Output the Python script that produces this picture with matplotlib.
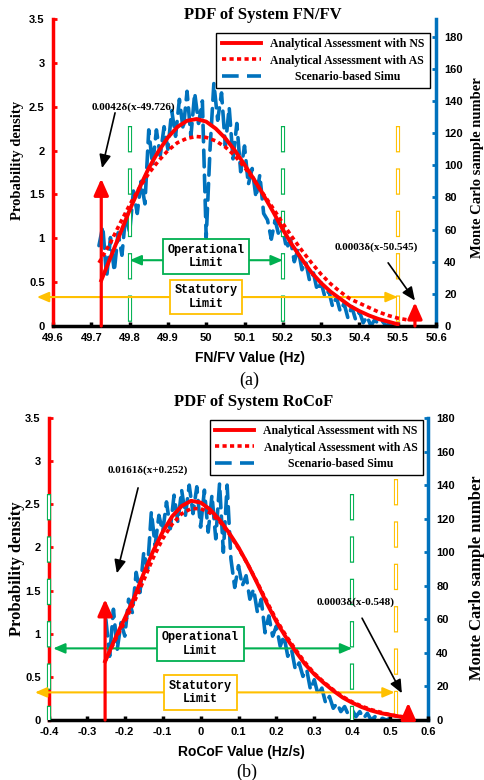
import numpy as np
import matplotlib
matplotlib.use("Agg")
import matplotlib.pyplot as plt
from matplotlib.lines import Line2D

plt.rcParams["lines.scale_dashes"] = False
plt.rcParams["font.family"] = ["Liberation Sans", "DejaVu Sans"]
SERIF = ["Liberation Serif", "DejaVu Serif"]
MONO = ["Liberation Mono", "DejaVu Sans Mono"]

RED = "#FF0000"
BLUE = "#0072BD"
GREEN = "#00B050"
YELLOW = "#FFC000"

# ---------------- shared ----------------
legend_labels = ["Analytical Assessment with NS",
                 "Analytical Assessment with AS",
                 "Scenario-based Simu"]
pdf_ticks = [0, 0.5, 1, 1.5, 2, 2.5, 3, 3.5]
pdf_ticklabels = ["0", "0.5", "1", "1.5", "2", "2.5", "3", "3.5"]
count_ticks = [0, 20, 40, 60, 80, 100, 120, 140, 160, 180]
count_ticklabels = [str(v) for v in count_ticks]

# ---------------- panel (a) data ----------------
a_xticks = [49.6, 49.7, 49.8, 49.9, 50.0, 50.1, 50.2, 50.3, 50.4, 50.5, 50.6]
a_xticklabels = ["49.6", "49.7", "49.8", "49.9", "50", "50.1", "50.2",
                 "50.3", "50.4", "50.5", "50.6"]
a_ns_x = [49.726, 49.75, 49.775, 49.80, 49.825, 49.85, 49.875, 49.90, 49.925,
          49.95, 49.975, 50.00, 50.025, 50.05, 50.075, 50.10, 50.125, 50.15,
          50.175, 50.20, 50.225, 50.25, 50.275, 50.30, 50.325, 50.35, 50.375,
          50.40, 50.425, 50.45, 50.475, 50.50]
a_ns_y = [0.52, 0.78, 1.05, 1.32, 1.57, 1.80, 1.99, 2.15, 2.27, 2.34, 2.36,
          2.33, 2.25, 2.14, 2.00, 1.84, 1.67, 1.49, 1.30, 1.10, 0.92, 0.76,
          0.61, 0.49, 0.39, 0.31, 0.23, 0.17, 0.12, 0.08, 0.05, 0.02]
a_as_x = [49.72, 49.75, 49.775, 49.80, 49.825, 49.85, 49.875, 49.90, 49.925,
          49.95, 49.975, 50.00, 50.025, 50.05, 50.075, 50.10, 50.125, 50.15,
          50.175, 50.20, 50.225, 50.25, 50.275, 50.30, 50.325, 50.35, 50.375,
          50.40, 50.425, 50.45, 50.475, 50.50, 50.525]
a_as_y = [0.72, 0.95, 1.17, 1.38, 1.57, 1.74, 1.88, 2.00, 2.09, 2.14, 2.16,
          2.15, 2.11, 2.04, 1.94, 1.81, 1.66, 1.50, 1.34, 1.17, 1.01, 0.86,
          0.72, 0.59, 0.48, 0.39, 0.31, 0.26, 0.21, 0.16, 0.12, 0.09, 0.07]
a_sim_start, a_sim_step = 49.72, 0.01
a_sim = [50, 62, 30, 55, 34, 58, 44, 70, 58, 84,
         70, 90, 76, 122, 100, 122, 106, 124, 110, 134,
         118, 141, 122, 146, 118, 145, 126, 140, 55, 110,
         151, 128, 145, 112, 136, 104, 126, 96, 112, 88,
         98, 80, 94, 70, 66, 54, 66, 56, 60, 48,
         54, 40, 48, 35, 40, 28, 33, 22, 27, 18,
         22, 12, 18, 9, 14, 5, 12, 4, 9, 2,
         6, 0, 4, 1, 3, 0, 2, 0, 1]
a_delta_x = [49.726, 50.545]
a_delta_h = [1.68, 0.27]
a_delta_txt = ["0.0042\u03b4(x-49.726)", "0.0003\u03b4(x-50.545)"]
a_op = [49.8, 50.2]
a_stat = [49.5, 50.5]

# ---------------- panel (b) data ----------------
b_xticks = [-0.4, -0.3, -0.2, -0.1, 0.0, 0.1, 0.2, 0.3, 0.4, 0.5, 0.6]
b_xticklabels = ["-0.4", "-0.3", "-0.2", "-0.1", "0", "0.1", "0.2", "0.3",
                 "0.4", "0.5", "0.6"]
b_ns_x = [-0.252, -0.225, -0.2, -0.175, -0.15, -0.125, -0.1, -0.075, -0.05,
          -0.025, 0.0, 0.025, 0.05, 0.075, 0.1, 0.125, 0.15, 0.175, 0.2,
          0.225, 0.25, 0.275, 0.3, 0.325, 0.35, 0.375, 0.4, 0.425, 0.45,
          0.475, 0.5, 0.525, 0.55]
b_ns_y = [0.68, 0.95, 1.18, 1.42, 1.70, 1.96, 2.18, 2.36, 2.48, 2.54, 2.52,
          2.44, 2.32, 2.17, 2.00, 1.80, 1.58, 1.35, 1.14, 0.96, 0.80, 0.65,
          0.53, 0.43, 0.34, 0.26, 0.20, 0.15, 0.11, 0.08, 0.06, 0.04, 0.03]
b_as_x = b_ns_x
b_as_y = [0.68, 0.93, 1.14, 1.37, 1.62, 1.88, 2.10, 2.27, 2.39, 2.45, 2.45,
          2.40, 2.30, 2.16, 1.99, 1.80, 1.59, 1.37, 1.16, 0.98, 0.82, 0.67,
          0.54, 0.44, 0.35, 0.27, 0.21, 0.16, 0.12, 0.09, 0.06, 0.04, 0.03]
b_sim_start, b_sim_step = -0.25, 0.01
b_sim = [60, 38, 66, 42, 58, 50, 72, 64, 88, 76,
         100, 90, 124, 104, 122, 112, 130, 114, 134, 118,
         137, 122, 140, 123, 139, 115, 137, 112, 134, 108,
         141, 100, 140, 96, 79, 92, 80, 86, 72, 78,
         64, 72, 52, 62, 50, 56, 44, 50, 38, 42,
         30, 34, 26, 30, 18, 24, 15, 19, 10, 14,
         7, 10, 5, 8, 3, 6, 2, 5, 1, 4,
         0, 2, 0, 1, 0, 1]
b_delta_x = [-0.252, 0.548]
b_delta_h = [1.40, 0.20]
b_delta_txt = ["0.0161\u03b4(x+0.252)", "0.0003\u03b4(x-0.548)"]
b_op = [-0.4, 0.4]
b_stat = [-0.5, 0.515]

fig = plt.figure(figsize=(4.85, 7.8), dpi=100)
W, H = 485.0, 780.0

SIM_STYLE = (0, (12, 6))


def make_axes(rect, xlim, xticks, xticklabels, rmax):
    ax = fig.add_axes(rect)
    tw = ax.twinx()
    ax.set_zorder(tw.get_zorder() + 1)
    ax.patch.set_visible(False)
    ax.set_xlim(*xlim)
    ax.set_ylim(0, 3.5)
    tw.set_ylim(0, rmax)
    ax.set_xticks(xticks)
    ax.set_xticklabels(xticklabels)
    ax.set_yticks(pdf_ticks)
    ax.set_yticklabels(pdf_ticklabels)
    tw.set_yticks(count_ticks)
    tw.set_yticklabels(count_ticklabels)
    for s in ["top", "right"]:
        ax.spines[s].set_visible(False)
    for s in ["top", "left", "bottom"]:
        tw.spines[s].set_visible(False)
    ax.spines["left"].set_color(RED)
    ax.spines["left"].set_linewidth(2.5)
    ax.spines["bottom"].set_color("black")
    ax.spines["bottom"].set_linewidth(2.5)
    tw.spines["right"].set_color(BLUE)
    tw.spines["right"].set_linewidth(2.5)
    ax.tick_params(axis="y", direction="in", length=3, width=2, color=RED,
                   pad=6, labelsize=8)
    ax.tick_params(axis="x", direction="in", length=3, width=2.5,
                   color="black", pad=5, labelsize=8)
    tw.tick_params(axis="y", direction="in", length=3, width=2, color=BLUE,
                   pad=6, labelsize=8)
    for lab in ax.get_xticklabels() + ax.get_yticklabels() + tw.get_yticklabels():
        lab.set_fontweight("bold")
    return ax, tw


def hollow_vline(ax, x, ytop, color):
    d, g, e = 19.0, 11.5, 0.9
    ax.plot([x, x], [ytop, 0], color=color, lw=3.0, linestyle=(0, (d, g)),
            dash_capstyle="butt", zorder=3, clip_on=False)
    ax.plot([x, x], [ytop, 0], color="white", lw=1.5,
            linestyle=(d + g - e, (d - 2 * e, g + 2 * e)),
            dash_capstyle="butt", zorder=3.1, clip_on=False)


def limit_arrow(ax, x0, x1, y, color):
    ax.annotate("", xy=(x0, y), xytext=(x1, y), annotation_clip=False,
                arrowprops=dict(arrowstyle="<|-|>,head_length=0.7,head_width=0.3",
                                color=color, lw=1.5, mutation_scale=10,
                                shrinkA=0, shrinkB=0), zorder=4)


def limit_box(ax, x, y, text, color):
    ax.text(x, y, text, ha="center", va="center", family=MONO,
            fontweight="bold", fontsize=8.5, linespacing=1.15, zorder=6,
            bbox=dict(boxstyle="square,pad=0.4", fc="white", ec=color, lw=1.3))


def delta_arrow(ax, x, h):
    ax.annotate("", xy=(x, h), xytext=(x, 0), annotation_clip=False,
                arrowprops=dict(arrowstyle="-|>,head_length=0.9,head_width=0.4",
                                color=RED, lw=2.3, mutation_scale=11,
                                shrinkA=0, shrinkB=0), zorder=7)


def note(ax, text, txy, start, tip):
    ax.text(txy[0], txy[1], text, ha="center", va="center", family=SERIF,
            fontweight="bold", fontsize=8, zorder=8)
    ax.annotate("", xy=tip, xytext=start, annotation_clip=False,
                arrowprops=dict(arrowstyle="-|>,head_length=0.8,head_width=0.35",
                                color="black", lw=1.2, mutation_scale=10,
                                shrinkA=0, shrinkB=0), zorder=8)


def curves(ax, tw, ns_x, ns_y, as_x, as_y, sim_x, sim_y):
    tw.plot(sim_x, sim_y, color=BLUE, lw=2.6, linestyle=SIM_STYLE,
            dash_capstyle="round", solid_joinstyle="round", zorder=2)
    ax.plot(as_x, as_y, color=RED, lw=2.6, linestyle=(0, (3.0, 2.4)),
            dash_capstyle="butt", zorder=4.5)
    ax.plot(ns_x, ns_y, color=RED, lw=2.8, zorder=5)


def legend(ax, anchor):
    handles = [Line2D([], [], color=RED, lw=2.8),
               Line2D([], [], color=RED, lw=2.6, linestyle=(0, (3.0, 2.4))),
               Line2D([], [], color=BLUE, lw=2.6, linestyle=SIM_STYLE)]
    leg = ax.legend(handles, legend_labels, loc="upper right",
                    bbox_to_anchor=anchor, borderaxespad=0, frameon=True,
                    fancybox=False, edgecolor="black", framealpha=1,
                    handlelength=3.3, handletextpad=0.8, labelspacing=0.35,
                    borderpad=0.45,
                    prop=dict(family=SERIF, weight="bold", size=8.5))
    leg.get_frame().set_linewidth(1.0)
    leg.set_zorder(10)
    return leg


# ======================= panel (a) =======================
axa, twa = make_axes([53 / W, 1 - 326 / H, 383 / W, 307 / H], (49.6, 50.6),
                     a_xticks, a_xticklabels, 191)
a_sim_x = a_sim_start + a_sim_step * np.arange(len(a_sim))
curves(axa, twa, a_ns_x, a_ns_y, a_as_x, a_as_y, a_sim_x, a_sim)
for xv in a_op:
    hollow_vline(axa, xv, 2.28, GREEN)
hollow_vline(axa, a_stat[1], 2.28, YELLOW)
limit_arrow(axa, a_op[0], a_op[1], 0.75, GREEN)
limit_arrow(axa, 49.558, a_stat[1], 0.33, YELLOW)
limit_box(axa, 50.0, 0.79, "Operational\nLimit", GREEN)
limit_box(axa, 50.0, 0.33, "Statutory\nLimit", YELLOW)
for xv, h in zip(a_delta_x, a_delta_h):
    delta_arrow(axa, xv, h)
note(axa, a_delta_txt[0], (49.809, 2.49), (49.762, 2.43), (49.728, 1.80))
note(axa, a_delta_txt[1], (50.443, 0.90), (50.475, 0.72), (50.545, 0.29))
lega = legend(axa, (0.984, 0.954))
axa.set_xlabel("FN/FV Value (Hz)", fontsize=10, fontweight="bold")
axa.xaxis.set_label_coords(0.515, -0.083)
axa.set_ylabel("Probability density", family=SERIF, fontsize=10.5,
               fontweight="bold")
axa.yaxis.set_label_coords(-0.075, 0.54)
twa.set_ylabel("Monte Carlo sample number", family=SERIF, fontsize=10.5,
               fontweight="bold")
twa.yaxis.set_label_coords(1.092, 0.515)
fig.text(263 / W, 1 - 15 / H, "PDF of System FN/FV", ha="center",
         va="center", family=SERIF, fontweight="bold", fontsize=12)
fig.text(249 / W, 1 - 380 / H, "(a)", ha="center", va="center",
         family=SERIF, fontsize=13)

# ======================= panel (b) =======================
axb, twb = make_axes([49 / W, 1 - 720 / H, 379 / W, 302 / H], (-0.4, 0.6),
                     b_xticks, b_xticklabels, 180)
b_sim_x = b_sim_start + b_sim_step * np.arange(len(b_sim))
curves(axb, twb, b_ns_x, b_ns_y, b_as_x, b_as_y, b_sim_x, b_sim)
for xv in b_op:
    hollow_vline(axb, xv, 2.62, GREEN)
hollow_vline(axb, b_stat[1], 2.79, YELLOW)
limit_arrow(axb, -0.389, b_op[1], 0.83, GREEN)
limit_arrow(axb, -0.437, b_stat[1] - 0.003, 0.32, YELLOW)
limit_box(axb, 0.0, 0.88, "Operational\nLimit", GREEN)
limit_box(axb, 0.0, 0.32, "Statutory\nLimit", YELLOW)
for xv, h in zip(b_delta_x, b_delta_h):
    delta_arrow(axb, xv, h)
note(axb, b_delta_txt[0], (-0.140, 2.90), (-0.165, 2.69), (-0.221, 1.70))
note(axb, b_delta_txt[1], (0.41, 1.37), (0.426, 1.18), (0.531, 0.31))
legb = legend(axb, (0.987, 0.993))
axb.set_xlabel("RoCoF Value (Hz/s)", fontsize=10, fontweight="bold")
axb.xaxis.set_label_coords(0.509, -0.083)
axb.set_ylabel("Probability density", family=SERIF, fontsize=12,
               fontweight="bold")
axb.yaxis.set_label_coords(-0.063, 0.5)
twb.set_ylabel("Monte Carlo sample number", family=SERIF, fontsize=12,
               fontweight="bold")
twb.yaxis.set_label_coords(1.108, 0.47)
fig.text(254 / W, 1 - 402 / H, "PDF of System RoCoF", ha="center",
         va="center", family=SERIF, fontweight="bold", fontsize=12)
fig.text(247 / W, 1 - 772 / H, "(b)", ha="center", va="center",
         family=SERIF, fontsize=13)

# centre legend texts like the original
fig.canvas.draw()
for leg in (lega, legb):
    texts = leg.get_texts()
    widths = [t.get_window_extent().width for t in texts]
    mw = max(widths)
    for t, w in zip(texts, widths):
        t.set_x((mw - w) / 2.0)

fig.savefig("out.png", dpi=100)
